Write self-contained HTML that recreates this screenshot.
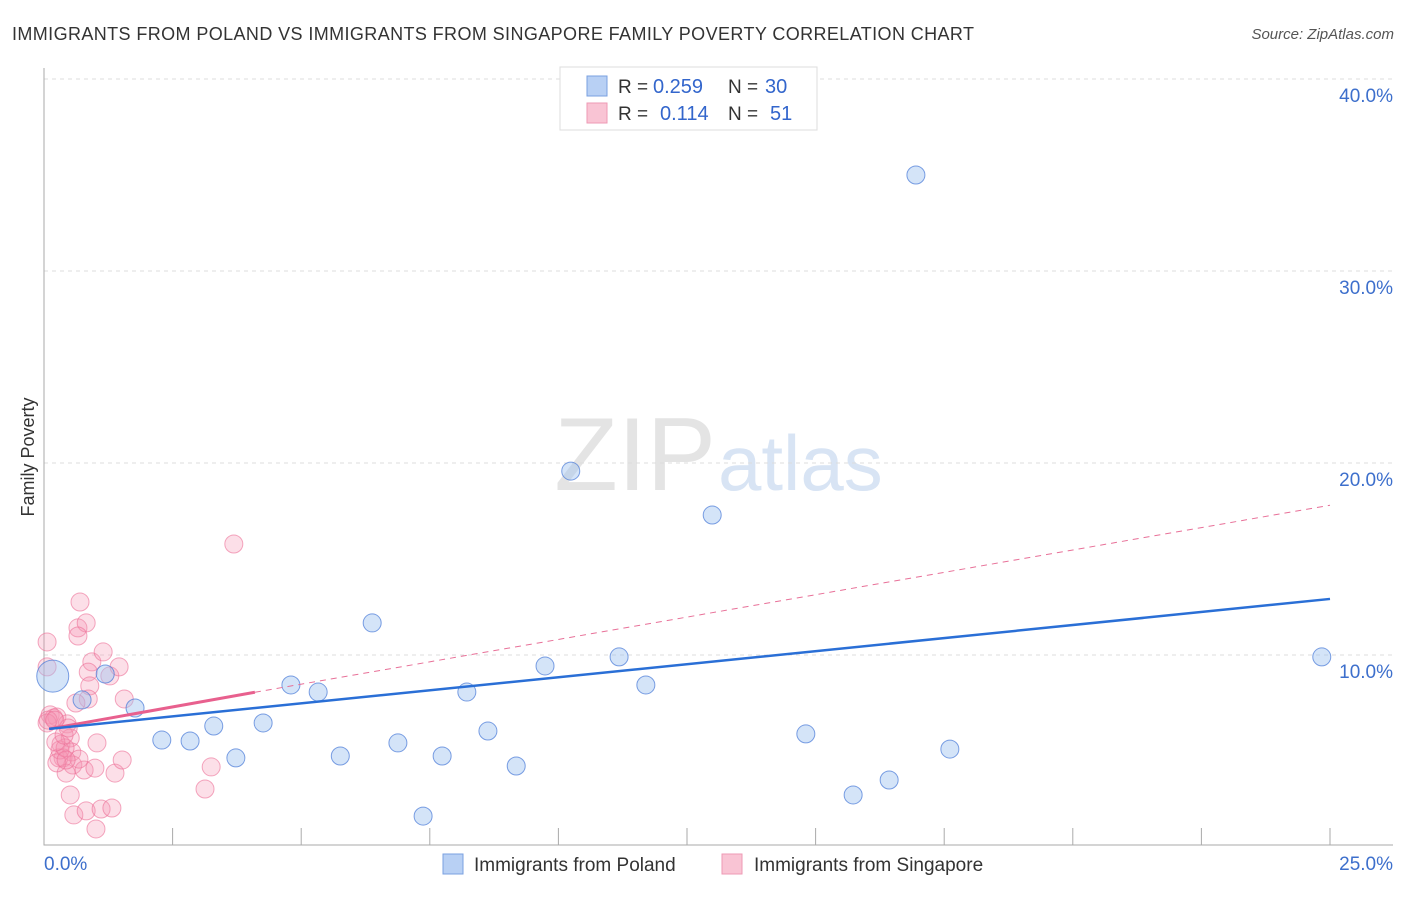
<!DOCTYPE html>
<html><head><meta charset="utf-8"><style>
body{margin:0;background:#fff;font-family:"Liberation Sans",sans-serif}
svg text{font-family:"Liberation Sans",sans-serif}
</style></head><body>
<svg id="c" width="1406" height="892">
<text x="12" y="40" font-size="18" fill="#333" textLength="962">IMMIGRANTS FROM POLAND VS IMMIGRANTS FROM SINGAPORE FAMILY POVERTY CORRELATION CHART</text>
<text x="1394" y="39" font-size="15" fill="#555" font-style="italic" text-anchor="end">Source: ZipAtlas.com</text>
<text x="716" y="490" font-size="104" fill="#e4e4e4" font-family="Liberation Serif" text-anchor="end">ZIP</text>
<text x="718" y="490" font-size="78" fill="#d8e4f4">atlas</text>
<text transform="translate(34,457) rotate(-90)" font-size="18" fill="#333" text-anchor="middle">Family Poverty</text>
<g id="grid"></g><g id="axes"></g><g id="marks"></g>
<g>
<rect x="560" y="67" width="257" height="63" fill="#fff" stroke="#ddd"/>
<rect x="587" y="76" width="20" height="20" fill="#b8d0f4" stroke="#7aa0e0"/>
<rect x="587" y="103" width="20" height="20" fill="#f9c4d4" stroke="#ee9ab4"/>
<text x="618" y="93" font-size="19" fill="#333">R =</text>
<text x="653" y="93" font-size="20" fill="#3366cc">0.259</text>
<text x="728" y="93" font-size="19" fill="#333">N =</text>
<text x="765" y="93" font-size="20" fill="#3366cc">30</text>
<text x="618" y="120" font-size="19" fill="#333">R =</text>
<text x="660" y="120" font-size="20" fill="#3366cc">0.114</text>
<text x="728" y="120" font-size="19" fill="#333">N =</text>
<text x="770" y="120" font-size="20" fill="#3366cc">51</text>
</g>
<g>
<rect x="443" y="854" width="20" height="20" fill="#b8d0f4" stroke="#7aa0e0"/>
<text x="474" y="871" font-size="19" fill="#333">Immigrants from Poland</text>
<rect x="722" y="854" width="20" height="20" fill="#f9c4d4" stroke="#ee9ab4"/>
<text x="754" y="871" font-size="19" fill="#333">Immigrants from Singapore</text>
</g>
</svg>
<script>
const yTicks=[10,20,30,40];
const yTickLabels=["10.0%","20.0%","30.0%","40.0%"];
const xTickLabels=["0.0%","25.0%"];
const polandX=[0.17,0.74,1.19,1.77,2.29,2.84,3.30,3.73,4.26,4.80,5.33,5.76,6.38,6.88,7.37,7.74,8.22,8.63,9.18,9.74,10.24,11.18,11.70,12.99,14.81,15.73,16.43,16.95,17.61,24.84];
const polandY=[8.9,7.66,9.01,7.24,5.57,5.52,6.30,4.64,6.46,8.44,8.07,4.74,11.67,5.42,1.61,4.74,8.07,6.04,4.22,9.43,19.58,9.90,8.44,17.29,5.89,2.71,3.49,35.0,5.10,9.90];
const singX=[0.06,0.70,0.66,0.82,0.66,0.06,0.93,0.86,1.15,1.28,1.46,0.89,0.86,0.62,1.56,0.12,0.19,0.25,0.06,0.45,1.03,0.33,0.51,0.54,0.37,0.29,0.56,0.78,0.43,0.99,1.38,1.52,0.51,0.58,0.82,1.01,1.11,1.32,3.69,3.25,3.13,0.31,0.41,0.23,0.39,0.47,0.08,0.21,0.25,0.68,0.43];
const singY=[10.68,12.76,11.41,11.67,10.99,9.38,9.64,9.11,10.16,8.91,9.38,8.39,7.71,7.50,7.71,6.88,6.72,6.77,6.46,6.41,5.42,5.36,5.68,4.95,4.64,4.64,4.27,4.01,3.85,4.11,3.85,4.53,2.71,1.67,1.88,0.94,1.98,2.03,15.78,4.17,3.02,5.05,5.16,5.47,5.83,6.20,6.61,6.61,4.38,4.58,4.53];
const polandTrend=[6.15,12.92];
const singTrend=[6.15,17.8];
const singSolidEnd=4.1;
const NS="http://www.w3.org/2000/svg";
const X=v=>44+v/25*1286, Y=v=>847-v*19.2;
function mk(p,t,a){const e=document.createElementNS(NS,t);for(const k in a)e.setAttribute(k,a[k]);document.getElementById(p).appendChild(e);return e;}
yTicks.forEach((t,i)=>{
 const g=mk('grid','line',{x1:44,x2:1393,y1:Y(t),y2:Y(t),stroke:'#ddd','stroke-dasharray':'4,4'});
 
 
 const l=mk('grid','text',{x:1393,y:Y(t)+23,'font-size':19,fill:'#3d6fcc','text-anchor':'end'});
 l.textContent=yTickLabels[i];
 
 
});
const ax=mk('axes','path',{d:'M44,68V845H1393',stroke:'#aaa',fill:'none'});


for(let i=1;i<=10;i++){const t=mk('axes','line',{x1:X(i*2.5),x2:X(i*2.5),y1:828,y2:845,stroke:'#aaa'});
 
 }
[[0,'start',44],[1,'end',1393]].forEach(([i,a,x])=>{const l=mk('axes','text',{x:x,y:870,'font-size':19,fill:'#3d6fcc','text-anchor':a});l.textContent=xTickLabels[i];
 
 });
singX.forEach((v,i)=>{const c=mk('marks','circle',{cx:X(v),cy:Y(singY[i]),r:9,fill:'rgba(244,150,180,0.3)',stroke:'rgba(236,110,150,0.6)'});
 
 });
polandX.forEach((v,i)=>{const c=mk('marks','circle',{cx:X(v),cy:Y(polandY[i]),r:i==0?16:9,fill:'rgba(160,195,240,0.45)',stroke:'rgba(70,120,215,0.7)'});
 
 });
const sd=mk('marks','line',{x1:X(singSolidEnd),y1:Y(singTrend[0]+(singTrend[1]-singTrend[0])*singSolidEnd/25),x2:X(25),y2:Y(singTrend[1]),stroke:'#e87098','stroke-dasharray':'6,5','stroke-width':1});


const ss=mk('marks','line',{x1:X(0.1),y1:Y(singTrend[0]),x2:X(singSolidEnd),y2:Y(singTrend[0]+(singTrend[1]-singTrend[0])*singSolidEnd/25),stroke:'#e8608e','stroke-width':3});


const pt=mk('marks','line',{x1:X(0.1),y1:Y(polandTrend[0]),x2:X(25),y2:Y(polandTrend[1]),stroke:'#2a6fd6','stroke-width':2.5});


</script>
</body></html>
